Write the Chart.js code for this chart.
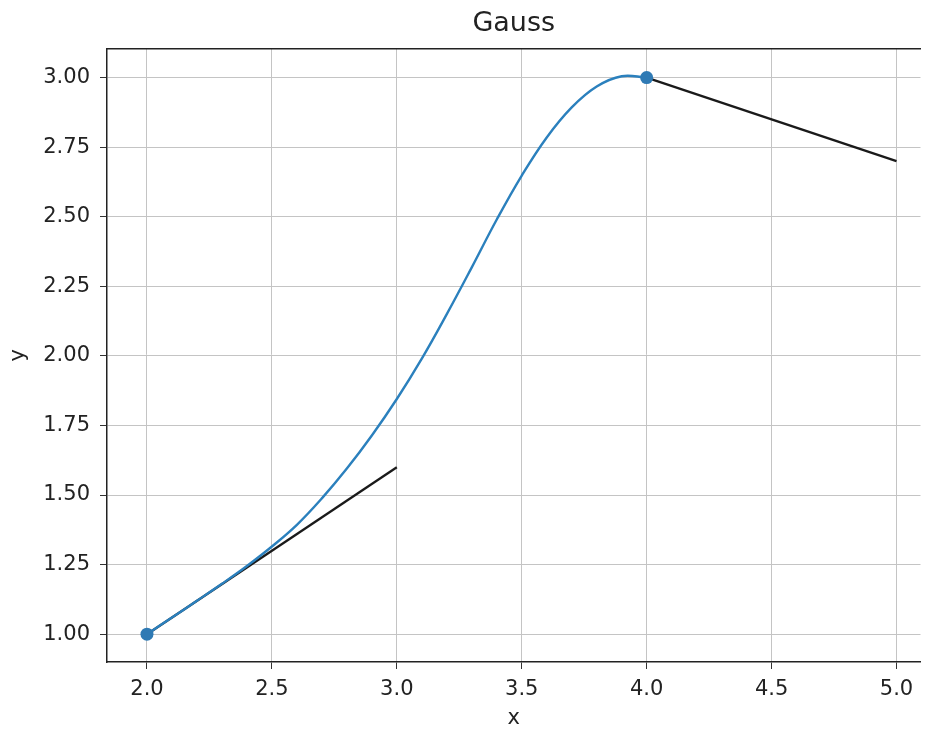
<!DOCTYPE html>
<html>
<head>
<meta charset="utf-8">
<title>Gauss</title>
<script src="https://cdn.jsdelivr.net/npm/chart.js@4/dist/chart.umd.min.js"></script>
<style>
    html, body { margin: 0; padding: 0; background: #fff; overflow: hidden; }
    canvas { display: block; }
</style>
</head>
<body>
<canvas id="chart" width="927" height="731"></canvas>
<script>
// Interpolating curve
const curveX = [2.0, 2.1, 2.2, 2.3, 2.4, 2.5, 2.6, 2.7, 2.8, 2.9, 3.0, 3.1, 3.2, 3.3, 3.4, 3.5, 3.6, 3.7, 3.8, 3.9, 4.0];
const curveY = [1.00, 1.06, 1.12, 1.181, 1.245, 1.315, 1.393, 1.488, 1.595, 1.714, 1.845, 1.99, 2.15, 2.318, 2.49, 2.648, 2.785, 2.893, 2.968, 3.005, 3.00];

// Tangent segments at the two nodes
const tangentAX = [2.0, 3.0];
const tangentAY = [1.0, 1.6];
const tangentBX = [4.0, 5.0];
const tangentBY = [3.0, 2.7];

// Nodes
const nodeX = [2.0, 4.0];
const nodeY = [1.0, 3.0];

// Tick labels
const xTicks = [2.0, 2.5, 3.0, 3.5, 4.0, 4.5, 5.0];
const yTicks = [1.00, 1.25, 1.50, 1.75, 2.00, 2.25, 2.50, 2.75, 3.00];

const FONT = 'DejaVu Sans';
const TEXT = '#222222';
const GRID = '#c4c4c4';

function toPoints(xs, ys) {
    return xs.map((x, i) => ({ x: x, y: ys[i] }));
}

const ctx = document.getElementById('chart').getContext('2d');
new Chart(ctx, {
    type: 'scatter',
    data: {
        datasets: [
            {
                label: 'nodes',
                data: toPoints(nodeX, nodeY),
                showLine: false,
                pointRadius: 6.5,
                pointBackgroundColor: '#2f7ab4',
                pointBorderWidth: 0,
                order: 0
            },
            {
                label: 'curve',
                data: toPoints(curveX, curveY),
                showLine: true,
                pointRadius: 0,
                borderColor: '#2b80bd',
                borderWidth: 2.4,
                tension: 0.4,
                order: 1
            },
            {
                label: 'tangent 1',
                data: toPoints(tangentAX, tangentAY),
                showLine: true,
                pointRadius: 0,
                borderColor: '#1a1a1a',
                borderWidth: 2.3,
                order: 2
            },
            {
                label: 'tangent 2',
                data: toPoints(tangentBX, tangentBY),
                showLine: true,
                pointRadius: 0,
                borderColor: '#1a1a1a',
                borderWidth: 2.3,
                order: 2
            }
        ]
    },
    options: {
        responsive: false,
        animation: false,
        layout: { padding: 0 },
        plugins: {
            legend: { display: false },
            tooltip: { enabled: false },
            title: {
                display: true,
                text: 'Gauss',
                fullSize: false,
                color: TEXT,
                font: { family: FONT, size: 27, weight: 'normal' },
                padding: { top: 8, bottom: 8 }
            }
        },
        scales: {
            x: {
                type: 'linear',
                min: 1.84,
                max: 5.096,
                afterBuildTicks: (scale) => { scale.ticks = xTicks.map(v => ({ value: v })); },
                afterFit: (scale) => { scale.height = 69; },
                ticks: {
                    color: TEXT,
                    font: { family: FONT, size: 21 },
                    padding: 8,
                    maxRotation: 0,
                    callback: (v) => Number(v).toFixed(1)
                },
                grid: { color: GRID, lineWidth: 1, tickColor: '#333', tickLength: 7 },
                border: { display: true, color: '#222', width: 1.5 },
                title: {
                    display: true,
                    text: 'x',
                    color: TEXT,
                    font: { family: FONT, size: 21 },
                    padding: { top: 0, bottom: 0 }
                }
            },
            x2: {
                type: 'linear',
                position: 'top',
                min: 1.84,
                max: 5.096,
                ticks: { display: false },
                grid: { display: false, drawTicks: false },
                border: { display: true, color: '#222', width: 1.5 }
            },
            y: {
                type: 'linear',
                min: 0.9,
                max: 3.105,
                afterBuildTicks: (scale) => { scale.ticks = yTicks.map(v => ({ value: v })); },
                afterFit: (scale) => { scale.width = 107; },
                ticks: {
                    color: TEXT,
                    font: { family: FONT, size: 21 },
                    padding: 10,
                    callback: (v) => Number(v).toFixed(2)
                },
                grid: { color: GRID, lineWidth: 1, tickColor: '#333', tickLength: 7 },
                border: { display: true, color: '#222', width: 1.5 },
                title: {
                    display: true,
                    text: 'y',
                    color: TEXT,
                    font: { family: FONT, size: 21 },
                    padding: { top: 6, bottom: 0 }
                }
            }
        }
    }
});
</script>
</body>
</html>
